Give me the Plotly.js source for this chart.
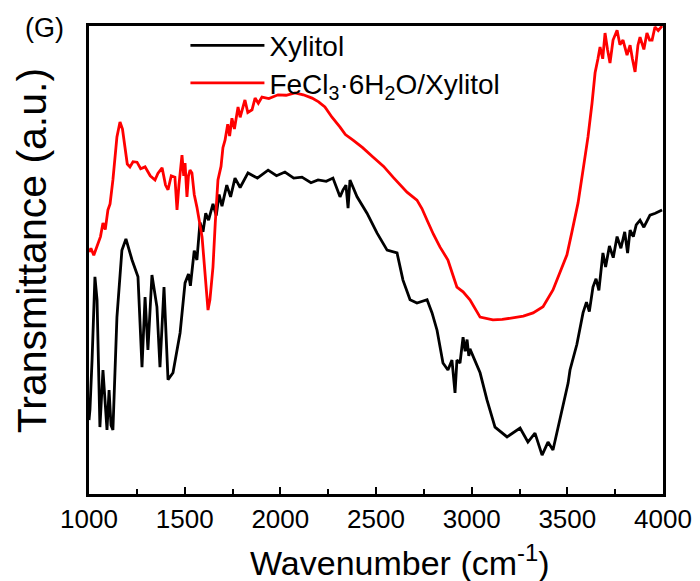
<!DOCTYPE html>
<html>
<head>
<meta charset="utf-8">
<script src="https://cdn.plot.ly/plotly-3.0.1.min.js"></script>
<style>html,body{margin:0;padding:0;background:#fff;}#chart{width:700px;height:581px;}</style>
</head>
<body>
<div id="chart"></div>
<script>
// Xylitol spectrum (wavenumber, transmittance a.u.)
const xylitolWn = [1000,1005,1016,1031,1042,1057,1073,1094,1105,1115,1125,1146,1172,1193,1225,1256,1277,1293,1308,1329,1355,1371,1392,1413,1439,1476,1502,1520,1530,1550,1564,1580,1596,1610,1625,1648,1665,1680,1695,1720,1740,1763,1790,1831,1880,1936,1980,2024,2070,2113,2160,2197,2240,2275,2312,2328,2343,2354,2364,2401,2453,2505,2558,2610,2641,2678,2714,2767,2793,2819,2850,2876,2897,2913,2923,2939,2955,2966,2976,2985,2991,3044,3080,3122,3185,3253,3294,3331,3368,3399,3425,3462,3504,3514,3550,3582,3600,3615,3634,3650,3665,3686,3700,3720,3740,3760,3780,3800,3815,3828,3845,3860,3880,3900,3932,3960,3995];
const xylitolT = [15.8,18,28.6,46.4,41.5,14.3,26.5,13.7,22.2,14.7,13.7,37.8,52.1,54.5,50.0,46.4,27.1,42.1,30.8,46.8,40.0,27.1,44.2,24.4,25.9,34.4,45.1,47,44.5,52,50,58,56,60,58.5,62,59.5,64,61.5,66,63.5,67.5,65.5,68.6,67.5,69.2,68,68.8,67.5,67.7,66.5,67.1,66.8,67.5,63.5,65.0,66.0,61.1,67.1,63.5,60.0,55.8,52.1,51.5,45.7,41.5,40.8,41.5,38.7,35.0,28.0,26.5,28.6,21.6,28.6,28.0,33.5,30.5,33,29.5,31,25.9,20.1,14.3,12.2,14.1,11.1,13.0,8.3,11.1,9.4,15.8,23.7,26.5,32,38.7,41,39,44.2,46,43.5,51.5,48.5,53,50.5,55,52.5,56,51.5,56.4,55,57.5,58.5,57,59.6,60,60.7];

// FeCl3·6H2O/Xylitol spectrum
const ferricWn = [1000,1010,1025,1042,1060,1073,1085,1099,1110,1125,1146,1162,1175,1188,1200,1214,1230,1251,1270,1293,1320,1345,1360,1382,1400,1413,1430,1449,1460,1470,1476,1486,1495,1502,1512,1520,1528,1538,1550,1564,1591,1605,1617,1622,1632,1648,1660,1674,1690,1700,1711,1725,1735,1747,1760,1779,1790,1815,1830,1852,1868,1885,1904,1940,1988,2030,2077,2120,2166,2200,2233,2270,2312,2340,2380,2430,2484,2540,2589,2630,2662,2714,2740,2767,2800,2834,2876,2900,2923,2955,2991,3044,3111,3160,3216,3270,3321,3373,3425,3462,3498,3524,3556,3582,3608,3629,3645,3660,3671,3685,3697,3710,3723,3739,3760,3775,3791,3812,3828,3840,3854,3869,3880,3900,3916,3930,3943,3958,3975,3995];
const ferricT = [51.7,52.5,51,52.8,55,57.9,56.5,60.7,62,67.1,76.3,79.5,78,74.1,70.5,69.9,71,70.9,69.5,69.9,68,67.1,68.5,69.7,66,65.0,68,67.7,60.7,66,68.0,72.4,68,70.7,63.5,68,69.2,68.6,64,61.3,54.9,48,42.1,39.3,41.5,48.5,58,67.1,70,74,75.6,79,76.5,80.3,78,82.7,80.5,84.2,81.5,82.1,84.6,83.5,84.8,84.5,85.3,85.2,85.7,85.3,84.6,83.8,82.7,80.5,78.4,76.8,75.6,74,72.0,70,67.7,66,64.5,62.8,61,58.5,55.5,52.8,50.0,47,44.2,43.2,41.5,37.8,37.2,37.3,37.6,38,38.7,40.0,43.6,47.4,51.1,56.0,62.2,69.2,76.3,83.5,90.0,93,95.5,93,98.5,95,92.1,97.0,99.1,96,97.0,93.8,95.9,93,90.2,95.9,97.6,95,98.5,97,97.0,99.8,99,100];

const xTickVals = [1000,1500,2000,2500,3000,3500,4000];
const seriesNames = ['Xylitol', 'FeCl<sub>3</sub>·6H<sub>2</sub>O/Xylitol'];
const xTitle = 'Wavenumber (cm<sup>-1</sup>)';
const yTitle = 'Transmittance (a.u.)';

const FONT = 'Arial, "Liberation Sans", sans-serif';

const traces = [
  {x: xylitolWn, y: xylitolT, type: 'scatter', mode: 'lines', name: seriesNames[0], legend: 'legend',
   line: {color: '#000000', width: 2.8}},
  {x: ferricWn, y: ferricT, type: 'scatter', mode: 'lines', name: seriesNames[1], legend: 'legend2',
   line: {color: '#ff0000', width: 2.8}}
];

const legendCommon = {xanchor: 'left', yanchor: 'middle', bgcolor: 'rgba(0,0,0,0)',
  font: {family: FONT, size: 28, color: '#000'}, itemwidth: 74};

const layout = {
  width: 700, height: 581,
  margin: {l: 89, r: 37, t: 26, b: 87},
  paper_bgcolor: '#ffffff', plot_bgcolor: '#ffffff',
  font: {family: FONT, color: '#000'},
  showlegend: true,
  legend: Object.assign({x: 0.168, y: 0.958}, legendCommon),
  legend2: Object.assign({x: 0.168, y: 0.878}, legendCommon),
  xaxis: {
    range: [1000, 4000], tickvals: xTickVals, ticktext: xTickVals.map(String),
    ticks: 'inside', ticklen: 7, tickwidth: 2, tickcolor: '#000',
    minor: {dtick: 250, ticks: 'inside', ticklen: 5, tickwidth: 2, tickcolor: '#000'},
    showline: true, linewidth: 3, linecolor: '#000', mirror: true,
    showgrid: false, zeroline: false,
    tickfont: {family: FONT, size: 26, color: '#000'}
  },
  yaxis: {
    range: [0, 100], showticklabels: false, ticks: '',
    showline: true, linewidth: 3, linecolor: '#000', mirror: true,
    showgrid: false, zeroline: false
  },
  annotations: [
    {text: '(G)', xref: 'paper', yref: 'paper', x: -0.115, y: 0.995, xanchor: 'left', yanchor: 'middle',
     showarrow: false, font: {family: FONT, size: 27, color: '#000'}},
    {text: xTitle, xref: 'paper', yref: 'paper', x: 0.542, y: -0.142, xanchor: 'center', yanchor: 'middle',
     showarrow: false, font: {family: FONT, size: 34, color: '#000'}},
    {text: yTitle, xref: 'paper', yref: 'paper', x: -0.1, y: 0.52, xanchor: 'center', yanchor: 'middle',
     textangle: -90, showarrow: false, font: {family: FONT, size: 41, color: '#000'}}
  ]
};

Plotly.newPlot('chart', traces, layout, {displayModeBar: false, staticPlot: true});
</script>
</body>
</html>
